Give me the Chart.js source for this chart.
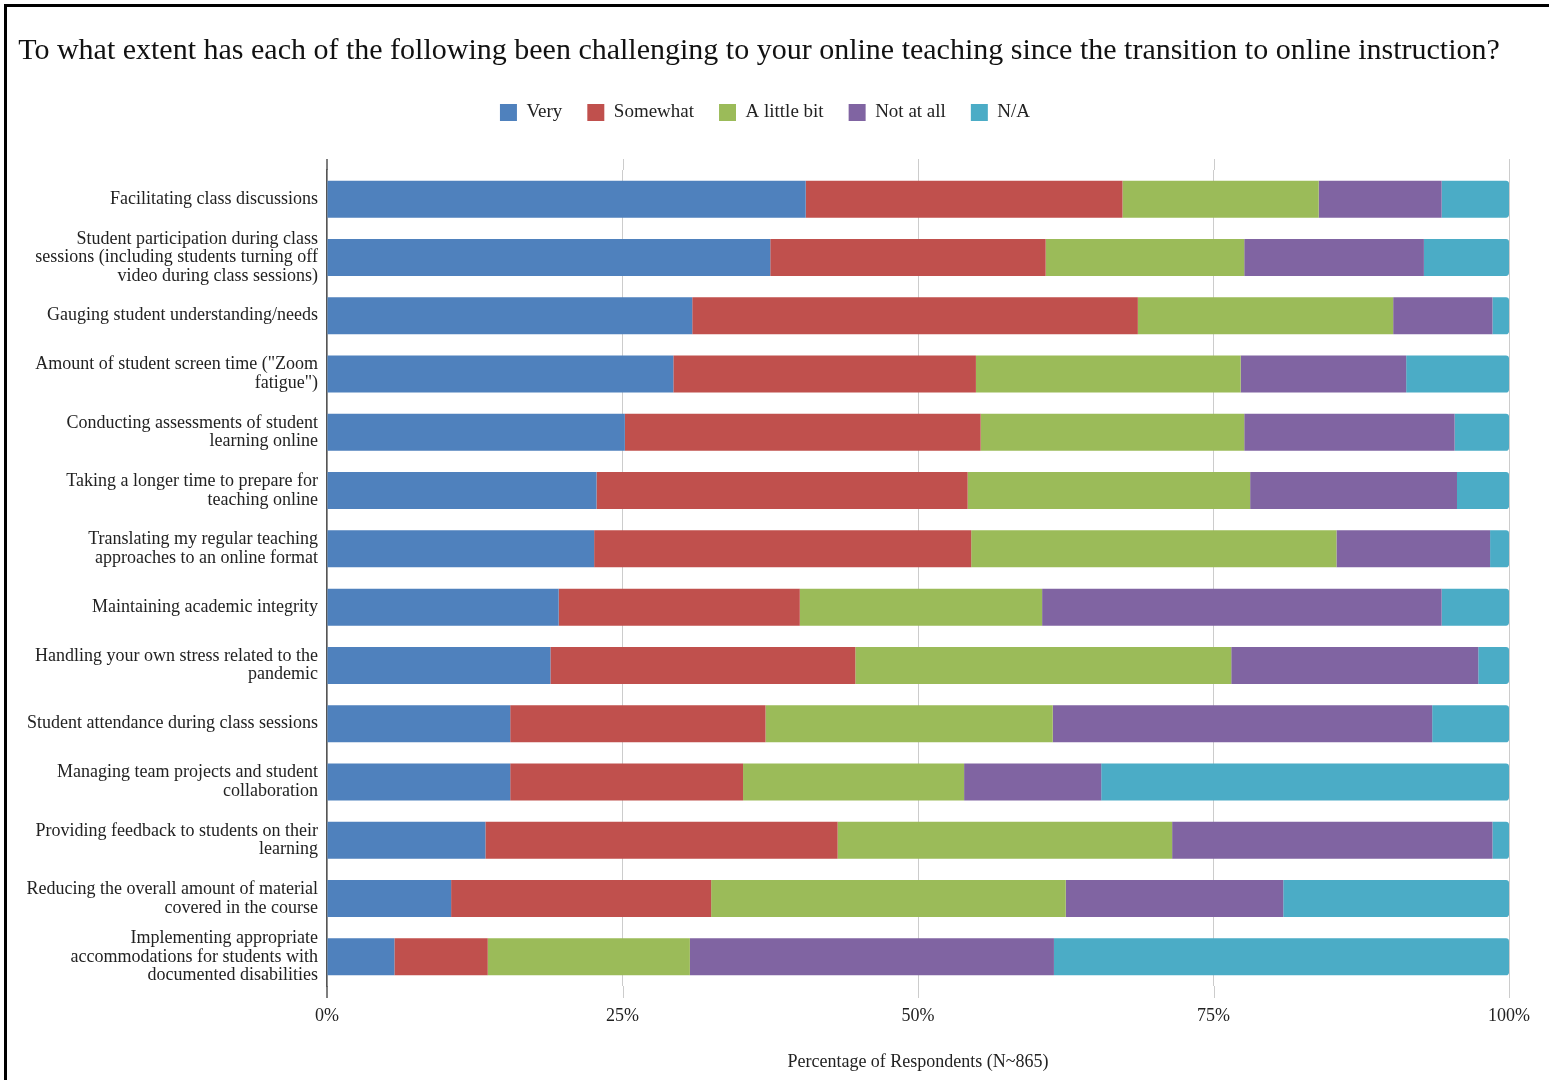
<!DOCTYPE html>
<html>
<head>
<meta charset="utf-8">
<title>Online teaching challenges</title>
<script src="https://cdn.jsdelivr.net/npm/chart.js@4.4.1/dist/chart.umd.min.js"></script>
<style>
  html, body { margin: 0; padding: 0; background: #fff; }
  #frame {
    position: absolute; left: 4px; top: 4px;
    width: 1545px; height: 1076px;
    border-left: 3px solid #000; border-top: 3px solid #000;
  }
  #chart { display: block; }
</style>
</head>
<body>
<div id="frame"><canvas id="chart" width="1542" height="1073"></canvas></div>
<script>
// Survey items (multi-line labels as arrays)
const categories = [
  'Facilitating class discussions',
  ['Student participation during class', 'sessions (including students turning off', 'video during class sessions)'],
  'Gauging student understanding/needs',
  ['Amount of student screen time ("Zoom', 'fatigue")'],
  ['Conducting assessments of student', 'learning online'],
  ['Taking a longer time to prepare for', 'teaching online'],
  ['Translating my regular teaching', 'approaches to an online format'],
  'Maintaining academic integrity',
  ['Handling your own stress related to the', 'pandemic'],
  'Student attendance during class sessions',
  ['Managing team projects and student', 'collaboration'],
  ['Providing feedback to students on their', 'learning'],
  ['Reducing the overall amount of material', 'covered in the course'],
  ['Implementing appropriate', 'accommodations for students with', 'documented disabilities']
];

// Share of respondents (%) per answer
const very      = [40.5, 37.5, 30.9, 29.3, 25.2, 22.8, 22.6, 19.6, 18.9, 15.5, 15.5, 13.4, 10.5, 5.7];
const somewhat  = [26.8, 23.3, 37.7, 25.6, 30.1, 31.4, 31.9, 20.4, 25.8, 21.6, 19.7, 29.8, 22.0, 7.9];
const littleBit = [16.6, 16.8, 21.6, 22.4, 22.3, 23.9, 30.9, 20.5, 31.8, 24.3, 18.7, 28.3, 30.0, 17.1];
const notAtAll  = [10.4, 15.2, 8.4, 14.0, 17.8, 17.5, 13.0, 33.8, 20.9, 32.1, 11.6, 27.1, 18.4, 30.8];
const notApplicable = [5.7, 7.2, 1.4, 8.7, 4.6, 4.4, 1.6, 5.7, 2.6, 6.5, 34.5, 1.4, 19.1, 38.5];

const xTicks = [0, 25, 50, 75, 100];

const serif = '"Liberation Serif", "Times New Roman", serif';
Chart.defaults.font.family = serif;
Chart.defaults.color = '#222';

// extra room between the legend and the plot, legend nudged right a bit
const legendGap = {
  id: 'legendGap',
  beforeInit(chart) {
    const fit = chart.legend.fit;
    chart.legend.fit = function () {
      fit.bind(chart.legend)();
      this.height += 38;
    };
  },
  afterLayout(chart) {
    chart.legend.left += 6;
    chart.legend.right += 6;
  }
};

// vertical grid lines run a little past the plot area top and bottom
const gridExtend = {
  id: 'gridExtend',
  beforeDatasetsDraw(chart) {
    const { ctx, chartArea, scales: { x } } = chart;
    ctx.save();
    xTicks.forEach((v, i) => {
      const first = i === 0;
      const px = first ? x.getPixelForValue(v) : Math.round(x.getPixelForValue(v)) + 0.5;
      ctx.strokeStyle = first ? '#555' : '#cccccc';
      ctx.lineWidth = first ? 1.5 : 1;
      ctx.beginPath();
      ctx.moveTo(px, chartArea.top - 11);
      ctx.lineTo(px, chartArea.top);
      ctx.moveTo(px, chartArea.bottom);
      ctx.lineTo(px, chartArea.bottom + 12);
      ctx.stroke();
    });
    ctx.restore();
  }
};

const ctx = document.getElementById('chart').getContext('2d');
new Chart(ctx, {
  type: 'bar',
  data: {
    labels: categories,
    datasets: [
      { label: 'Very', data: very, backgroundColor: '#4f81bd' },
      { label: 'Somewhat', data: somewhat, backgroundColor: '#c0504d' },
      { label: 'A little bit', data: littleBit, backgroundColor: '#9bbb59' },
      { label: 'Not at all', data: notAtAll, backgroundColor: '#8064a2' },
      {
        label: 'N/A', data: notApplicable, backgroundColor: '#4bacc6',
        borderSkipped: false,
        borderRadius: { topLeft: 0, bottomLeft: 0, topRight: 3, bottomRight: 3 }
      }
    ]
  },
  options: {
    indexAxis: 'y',
    responsive: false,
    animation: false,
    categoryPercentage: 1,
    barPercentage: 0.635,
    layout: { padding: { left: 0, right: 38, top: 0, bottom: 0 } },
    plugins: {
      title: {
        display: true,
        text: 'To what extent has each of the following been challenging to your online teaching since the transition to online instruction?',
        color: '#111',
        font: { size: 30, weight: 'normal', family: serif },
        padding: { top: 26, bottom: 9 }
      },
      legend: {
        position: 'top',
        labels: {
          boxWidth: 17,
          boxHeight: 17,
          padding: 25,
          color: '#222',
          font: { size: 19, family: serif }
        }
      },
      tooltip: { enabled: false }
    },
    scales: {
      x: {
        stacked: true,
        min: 0,
        max: 100,
        afterBuildTicks(scale) {
          scale.ticks = xTicks.map(v => ({ value: v }));
        },
        afterFit(scale) { scale.height = 94; },
        ticks: {
          padding: 19,
          color: '#222',
          font: { size: 18 },
          callback: v => v + '%'
        },
        grid: { color: '#cccccc', lineWidth: 1, drawTicks: false },
        border: { display: false },
        title: {
          display: true,
          text: 'Percentage of Respondents (N~865)',
          color: '#222',
          font: { size: 18 },
          padding: { top: 0, bottom: 7 }
        }
      },
      y: {
        stacked: true,
        afterFit(scale) { scale.width = 320; },
        grid: { display: false, drawTicks: false },
        border: { display: true, color: '#555', width: 1.5 },
        ticks: {
          autoSkip: false,
          padding: 9,
          color: '#222',
          font: { size: 18, lineHeight: 1.03 }
        }
      }
    }
  },
  plugins: [legendGap, gridExtend]
});
</script>
</body>
</html>
